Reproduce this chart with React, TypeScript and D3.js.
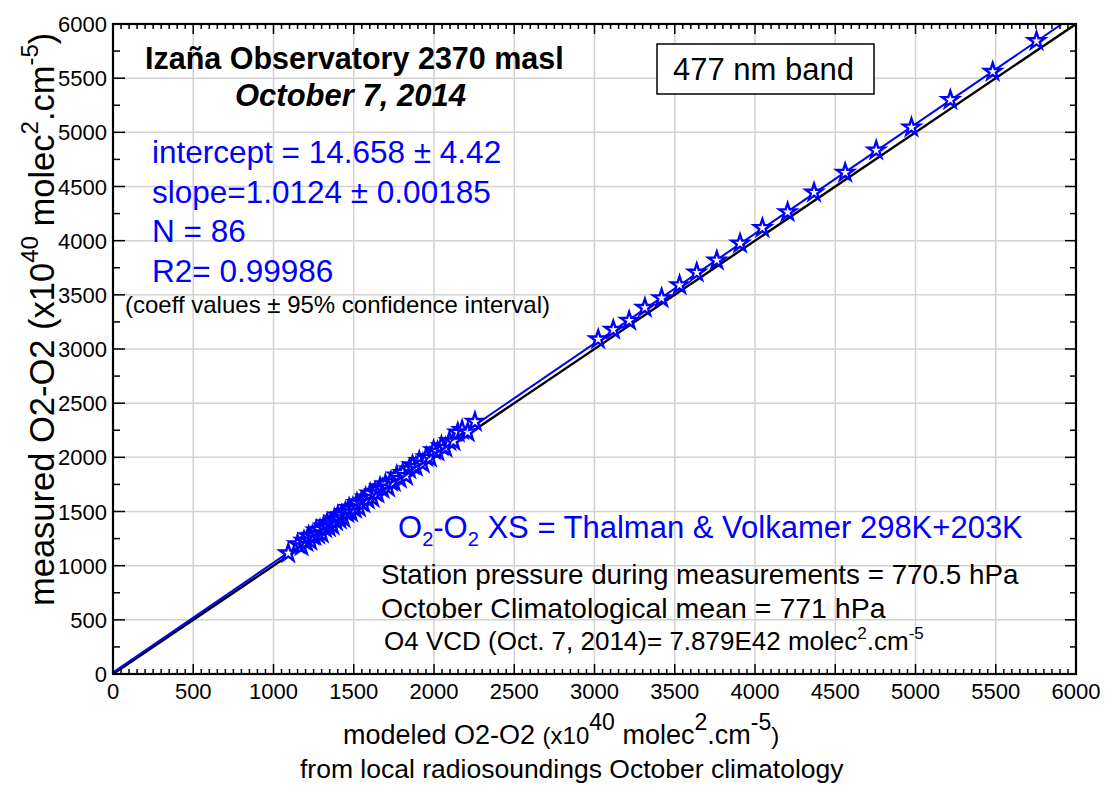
import React from 'react';
import * as d3 from 'd3';

// ---- data ----
const modeledX = [
  1092, 1150, 1175, 1190, 1205, 1218, 1230, 1242, 1255, 1266, 1278, 1290, 1301, 1312, 1322, 1334,
  1345, 1356, 1368, 1379, 1390, 1401, 1413, 1425, 1436, 1448, 1460, 1471, 1483, 1495, 1508, 1520,
  1533, 1546, 1560, 1574, 1588, 1602, 1617, 1632, 1648, 1664, 1680, 1697, 1714, 1732, 1750, 1768,
  1787, 1806, 1826, 1846, 1866, 1887, 1908, 1930, 1952, 1975, 1998, 2022, 2046, 2071, 2096, 2122,
  2148, 2175, 2210, 2255,
  3023, 3117, 3216, 3314, 3418, 3530, 3637, 3762, 3907, 4046, 4203, 4368, 4562, 4755, 4975, 5217,
  5481, 5754,
];
const measuredY = [
  1115, 1199, 1179, 1230, 1220, 1273, 1230, 1277, 1275, 1326, 1289, 1333, 1297, 1361, 1345, 1391,
  1354, 1392, 1372, 1433, 1410, 1463, 1427, 1465, 1439, 1496, 1487, 1532, 1492, 1538, 1527, 1578,
  1537, 1586, 1576, 1630, 1612, 1667, 1626, 1679, 1667, 1725, 1708, 1751, 1722, 1776, 1772, 1833,
  1804, 1857, 1829, 1890, 1928, 1913, 1966, 1943, 2001, 1998, 2066, 2054, 2104, 2089, 2149, 2149,
  2229, 2252, 2232, 2328,
  3090, 3178, 3262, 3381, 3470, 3590, 3706, 3818, 3975, 4118, 4264, 4445, 4628, 4834, 5046, 5300,
  5560, 5843,
];
const fitIntercept = 14.658;
const fitSlope = 1.0124;
const axisTicks = [0, 500, 1000, 1500, 2000, 2500, 3000, 3500, 4000, 4500, 5000, 5500, 6000];
const statsLines = [
  'intercept = 14.658 \u00B1 4.42',
  'slope=1.0124 \u00B1 0.00185',
  'N = 86',
  'R2= 0.99986',
];
const titleLine1 = 'Iza\u00F1a Observatory 2370 masl';
const titleLine2 = 'October 7, 2014';
const coeffNote = '(coeff values \u00B1 95% confidence interval)';
const bandLabel = '477 nm band';
const stationLine = 'Station pressure during measurements = 770.5 hPa';
const climLine = 'October Climatological mean = 771 hPa';
const xTitle2 = 'from local radiosoundings October climatology';

const FONT = 'Liberation Sans, Arial, Helvetica, sans-serif';
const BLUE = '#0000ff';

export default function App() {
  const W = 1108;
  const H = 787;
  const x = d3.scaleLinear().domain([0, 6000]).range([113, 1076]);
  const y = d3.scaleLinear().domain([0, 6000]).range([674, 24]);
  const [x0, x1] = x.range();
  const [y0, y1] = y.range();

  const gridVals = axisTicks.filter((v) => v > 0 && v < 6000);
  const minorX = d3.range(0, 6001, 50).filter((v) => v % 500 !== 0);
  const minorY = d3.range(0, 6001, 250).filter((v) => v % 500 !== 0);

  const line = d3
    .line<[number, number]>()
    .x((d) => x(d[0]))
    .y((d) => y(d[1]));
  const fitEnd = (6000 - fitIntercept) / fitSlope;
  const fitPath = line([
    [0, fitIntercept],
    [fitEnd, 6000],
  ]) as string;
  const onePath = line([
    [0, 0],
    [6000, 6000],
  ]) as string;
  const starPath = d3.symbol().type(d3.symbolStar).size(88)() as string;

  const points = modeledX.map((v, i) => [v, measuredY[i]] as [number, number]);

  return (
    <svg
      width={W}
      height={H}
      style={{ position: 'absolute', left: 0, top: 0, background: '#fff' }}
      fontFamily={FONT}
    >
      <rect x={0} y={0} width={W} height={H} fill="#fff" />
      <defs>
        <clipPath id="plotClip">
          <rect x={x0} y={y1} width={x1 - x0} height={y0 - y1} />
        </clipPath>
      </defs>

      {/* grid */}
      <g stroke="#d2d2d2" strokeWidth={1.5}>
        {gridVals.map((v) => (
          <line key={'gx' + v} x1={x(v)} x2={x(v)} y1={y1} y2={y0} />
        ))}
        {gridVals.map((v) => (
          <line key={'gy' + v} x1={x0} x2={x1} y1={y(v)} y2={y(v)} />
        ))}
      </g>

      {/* lines */}
      <g clipPath="url(#plotClip)">
        <path d={onePath} stroke="#000" strokeWidth={2.4} fill="none" />
        <path d={fitPath} stroke={BLUE} strokeWidth={2} fill="none" />
        {points.map((p, i) => (
          <path
            key={'s' + i}
            d={starPath}
            transform={`translate(${x(p[0])},${y(p[1])})`}
            fill="#fff"
            stroke={BLUE}
            strokeWidth={2.4}
            strokeLinejoin="miter"
          />
        ))}
      </g>

      {/* ticks */}
      <g stroke="#000" strokeWidth={1.5}>
        {minorX.map((v) => (
          <g key={'mx' + v}>
            <line x1={x(v)} x2={x(v)} y1={y0} y2={y0 - 5} />
            <line x1={x(v)} x2={x(v)} y1={y1} y2={y1 + 5} />
          </g>
        ))}
        {axisTicks.map((v) => (
          <g key={'Mx' + v}>
            <line x1={x(v)} x2={x(v)} y1={y0} y2={y0 - 10} />
            <line x1={x(v)} x2={x(v)} y1={y1} y2={y1 + 10} />
          </g>
        ))}
        {minorY.map((v) => (
          <g key={'my' + v}>
            <line x1={x0} x2={x0 + 7} y1={y(v)} y2={y(v)} />
            <line x1={x1} x2={x1 - 6} y1={y(v)} y2={y(v)} />
          </g>
        ))}
        {axisTicks.map((v) => (
          <g key={'My' + v}>
            <line x1={x0} x2={x0 + 12} y1={y(v)} y2={y(v)} />
            <line x1={x1} x2={x1 - 11} y1={y(v)} y2={y(v)} />
          </g>
        ))}
      </g>

      {/* frame */}
      <rect
        x={x0}
        y={y1}
        width={x1 - x0}
        height={y0 - y1}
        fill="none"
        stroke="#000"
        strokeWidth={2.2}
      />

      {/* tick labels */}
      <g fontSize={22} fill="#000">
        {axisTicks.map((v) => (
          <text key={'lx' + v} x={x(v)} y={y0 + 25} textAnchor="middle">
            {v}
          </text>
        ))}
        {axisTicks.map((v) => (
          <text key={'ly' + v} x={x0 - 6} y={y(v) + 8} textAnchor="end">
            {v}
          </text>
        ))}
      </g>

      {/* axis titles */}
      <text x={343} y={744} fontSize={27} fill="#000">
        <tspan>modeled O2-O2 </tspan>
        <tspan fontSize={24}>(x10</tspan>
        <tspan fontSize={23} dy={-14}>40</tspan>
        <tspan dy={14}> molec</tspan>
        <tspan fontSize={23} dy={-14}>2</tspan>
        <tspan dy={14}>.cm</tspan>
        <tspan fontSize={23} dy={-14}>-5</tspan>
        <tspan fontSize={24} dy={14}>)</tspan>
      </text>
      <text x={300} y={778} fontSize={26.5} fill="#000">
        {xTitle2}
      </text>
      <text transform="translate(54,606) rotate(-90)" fontSize={34.5} fill="#000">
        <tspan>measured O2-O2 (x10</tspan>
        <tspan fontSize={24} dy={-16}>40</tspan>
        <tspan dy={16}> molec</tspan>
        <tspan fontSize={24} dy={-16}>2</tspan>
        <tspan dy={16}>.cm</tspan>
        <tspan fontSize={24} dy={-16}>-5</tspan>
        <tspan dy={16}>)</tspan>
      </text>

      {/* title */}
      <text x={145} y={69} fontSize={30.5} fontWeight="bold" fill="#000">
        {titleLine1}
      </text>
      <text x={235} y={106} fontSize={31} fontWeight="bold" fontStyle="italic" fill="#000">
        {titleLine2}
      </text>

      {/* stats */}
      <g fontSize={31.5} fill={BLUE}>
        {statsLines.map((s, i) => (
          <text key={'st' + i} x={152} y={163 + i * 39.5}>
            {s}
          </text>
        ))}
      </g>
      <text x={125} y={313} fontSize={24} fill="#000">
        {coeffNote}
      </text>

      {/* band box */}
      <rect x={657} y={44} width={217} height={50} fill="#fff" stroke="#000" strokeWidth={1.5} />
      <text x={673} y={80} fontSize={31} fill="#000">
        {bandLabel}
      </text>

      {/* bottom-right annotations */}
      <text x={398} y={538} fontSize={31} fill={BLUE}>
        <tspan>O</tspan>
        <tspan fontSize={20} dy={8}>2</tspan>
        <tspan dy={-8}>-O</tspan>
        <tspan fontSize={20} dy={8}>2</tspan>
        <tspan dy={-8}> XS = Thalman &amp; Volkamer 298K+203K</tspan>
      </text>
      <text x={381} y={584} fontSize={27.8} fill="#000">
        {stationLine}
      </text>
      <text x={381} y={618} fontSize={28.5} fill="#000">
        {climLine}
      </text>
      <text x={384} y={650} fontSize={26} fill="#000">
        <tspan>O4 VCD (Oct. 7, 2014)= 7.879E42 molec</tspan>
        <tspan fontSize={17} dy={-11}>2</tspan>
        <tspan dy={11}>.cm</tspan>
        <tspan fontSize={17} dy={-11}>-5</tspan>
      </text>
    </svg>
  );
}
